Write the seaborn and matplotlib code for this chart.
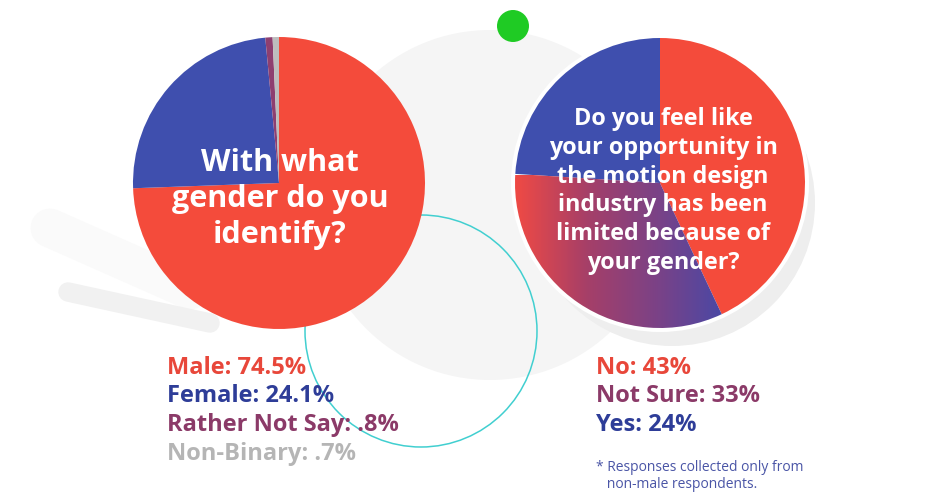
import numpy as np
import matplotlib
matplotlib.use("Agg")
import matplotlib.pyplot as plt
import seaborn as sns
from matplotlib.patches import Circle
from matplotlib.colors import LinearSegmentedColormap

# survey answers
gender_labels = ["Male", "Female", "Rather Not Say", "Non-Binary"]
gender_pct = [74.5, 24.1, 0.8, 0.7]
gender_colors = ["#F44B3B", "#3F4FAE", "#8E3F70", "#BDBDBD"]
gender_text_colors = ["#E8473A", "#2E3D98", "#8B3A68", "#B5B5B5"]

limited_labels = ["No", "Not Sure", "Yes"]
limited_pct = [43, 33, 24]
limited_colors = ["#F44B3B", "#8E3F78", "#3F4FAE"]
limited_text_colors = ["#E8473A", "#8B3A68", "#2E3D98"]

q1 = "With what\ngender do you\nidentify?"
q2 = ("Do you feel like\nyour opportunity in\nthe motion design\n"
      "industry has been\nlimited because of\nyour gender?")
footnote = "* Responses collected only from\n   non-male respondents."

W, H = 950, 499


def Y(y):
    # pixel row (from top) -> data y
    return H - y


def fmt(v):
    return f"{v:g}".lstrip("0") + "%"


sns.set_theme(style="white")
plt.rcParams["font.family"] = ["Open Sans", "DejaVu Sans"]

fig = plt.figure(figsize=(9.5, 4.99), dpi=100)
ax = fig.add_axes([0, 0, 1, 1])

# soft background shapes
ax.add_patch(Circle((490, Y(205)), 175, color="#F5F5F5", lw=0, zorder=0))
ax.plot([50, 190], [Y(228), Y(290)], color="#FAFAFA", lw=28, solid_capstyle="round", zorder=0)
ax.plot([68, 210], [Y(292), Y(323)], color="#F1F1F1", lw=14, solid_capstyle="round", zorder=0)
ax.add_patch(Circle((672, Y(203)), 143, color="#EEEEEE", lw=0, zorder=0))
ax.add_patch(Circle((660, Y(183)), 149, color="white", lw=0, zorder=0.5))
ax.add_patch(Circle((421, Y(331)), 116, fill=False, ec="#41CFD0", lw=1.1, zorder=1))
ax.add_patch(Circle((513, Y(26)), 16, color="#1FCB24", lw=0, zorder=3))

# pies
wedge_kw = dict(linewidth=0, zorder=2)
w1, _ = ax.pie(gender_pct, colors=gender_colors, startangle=90, counterclock=False,
               center=(279, Y(183)), radius=146, wedgeprops=wedge_kw)
w2, _ = ax.pie(limited_pct, colors=limited_colors, startangle=90, counterclock=False,
               center=(660, Y(183)), radius=145, wedgeprops=wedge_kw)
for w in w1 + w2:
    w.set_zorder(2)

# gradient fill for the "Not Sure" slice
cmap = LinearSegmentedColormap.from_list("ns", ["#F04A44", "#A63F68", "#7A4287", "#4549A8"])
grad = np.linspace(0, 1, 256).reshape(1, -1)
ns = w2[1]
ns.set_facecolor("none")
im = ax.imshow(grad, cmap=cmap, aspect="auto", extent=(515, 730, Y(330), Y(175)), zorder=2.1)
im.set_clip_path(ns)

# questions
ax.text(280, Y(199), q1, ha="center", va="center", color="white", fontsize=22,
        fontweight="bold", linespacing=1.27, zorder=5)
ax.text(663, Y(191), q2, ha="center", va="center", color="white", fontsize=16.8,
        fontweight="bold", linespacing=1.27, zorder=5)

# legends
for i, (lab, v, c) in enumerate(zip(gender_labels, gender_pct, gender_text_colors)):
    ax.text(167, Y(368 + 28.5 * i), f"{lab}: {fmt(v)}", ha="left", va="center",
            color=c, fontsize=17, fontweight="bold", zorder=5)
for i, (lab, v, c) in enumerate(zip(limited_labels, limited_pct, limited_text_colors)):
    ax.text(596, Y(368 + 28.5 * i), f"{lab}: {fmt(v)}", ha="left", va="center",
            color=c, fontsize=17, fontweight="bold", zorder=5)
ax.text(596, Y(476), footnote, ha="left", va="center", color="#4A55A6",
        fontsize=10, linespacing=1.25, zorder=5)

ax.set_xlim(0, W)
ax.set_ylim(0, H)
ax.set_axis_off()
fig.savefig("out.png", dpi=100, facecolor="white")
